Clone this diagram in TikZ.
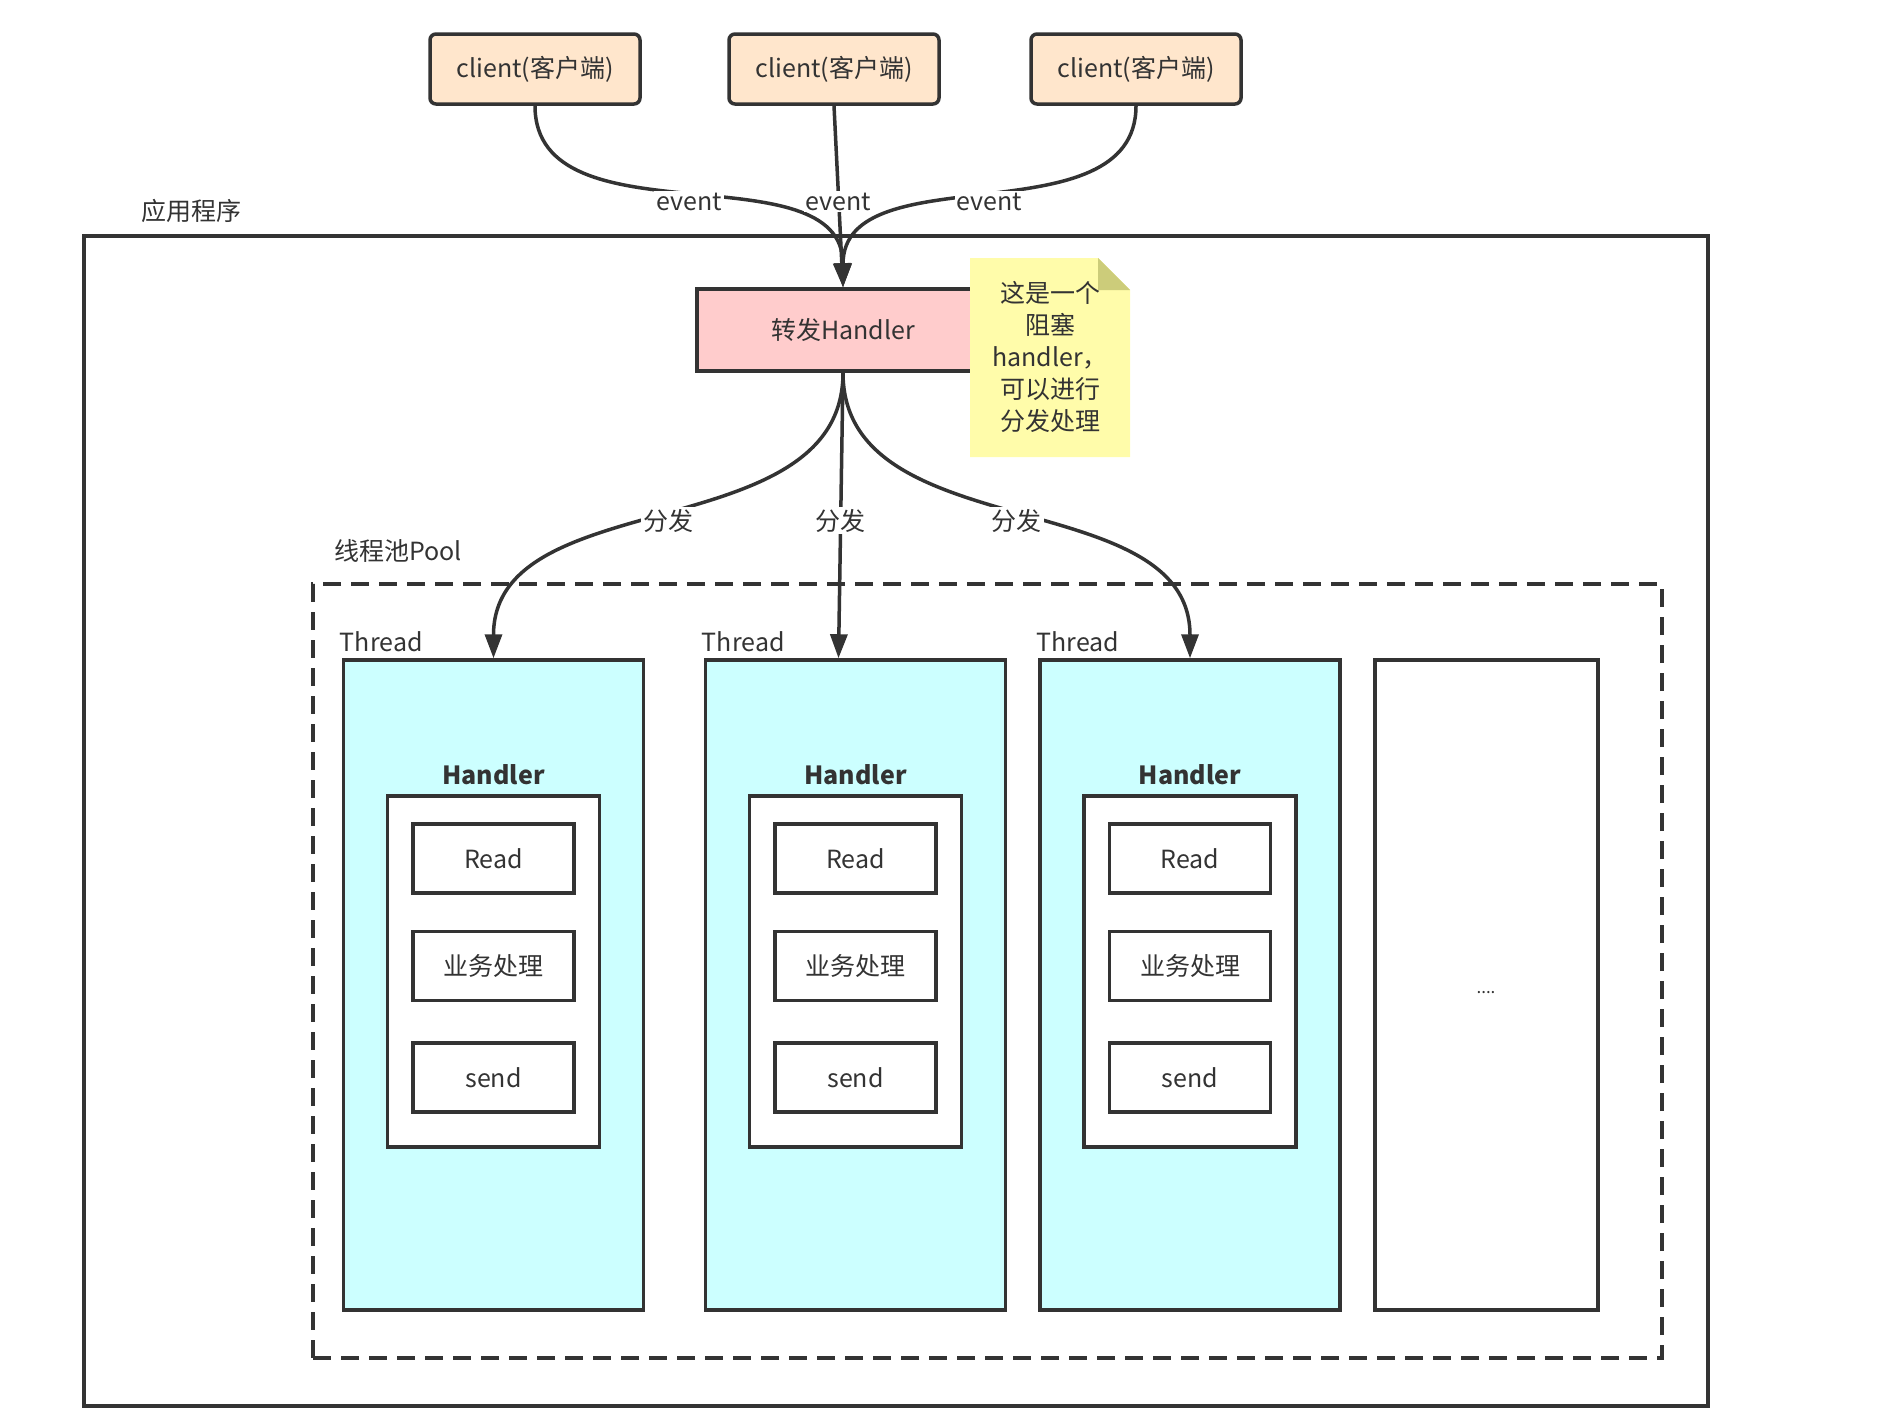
\documentclass[tikz,border=0pt]{standalone}
\usepackage{fontspec}
\setmainfont{Noto Sans CJK SC}
\usetikzlibrary{arrows.meta}
\definecolor{ln}{HTML}{333333}
\definecolor{clientfill}{HTML}{FFE6CC}
\definecolor{hfill}{HTML}{FFCCCC}
\definecolor{notefill}{HTML}{FFFCAA}
\definecolor{notefold}{HTML}{CCCC7A}
\definecolor{threadfill}{HTML}{CCFFFF}
\begin{document}
\begin{tikzpicture}[x=1pt,y=-1pt,
  font=\fontsize{25}{30}\selectfont, text=ln,
  client/.style={draw=ln, line width=3.5pt, fill=clientfill, rounded corners=6pt,
    minimum width=210pt, minimum height=70pt, inner sep=0pt},
  fwd/.style={draw=ln, line width=3.5pt, fill=hfill, minimum width=292pt,
    minimum height=82pt, inner sep=0pt},
  frame/.style={draw=ln, line width=3.5pt, inner sep=0pt},
  pool/.style={draw=ln, line width=3.5pt, dash pattern=on 18pt off 10pt, inner sep=0pt},
  thread/.style={draw=ln, line width=3.5pt, fill=threadfill, minimum width=300pt,
    minimum height=650pt, inner sep=0pt},
  inner/.style={draw=ln, line width=3.5pt, fill=white, minimum width=212pt,
    minimum height=351pt, inner sep=0pt},
  stepbox/.style={draw=ln, line width=3.5pt, fill=white, minimum width=161pt,
    minimum height=69pt, inner sep=0pt},
  conn/.style={draw=ln, line width=3.5pt, -{Triangle[length=24pt,width=17pt]}},
  lab/.style={fill=white, inner sep=2pt, yshift=-5pt},
  plain/.style={inner sep=0pt}
]
\useasboundingbox (0,0) rectangle (1900,1414);

% outer application frame
\node[frame, minimum width=1624pt, minimum height=1170pt] (app) at (896,821) {};
\node[plain] (applab) at (191,211) {应用程序};

% clients
\node[client] (c1) at (535,69) {client(客户端)};
\node[client] (c2) at (834,69) {client(客户端)};
\node[client] (c3) at (1136,69) {client(客户端)};

% forwarding handler
\node[fwd] (h) at (843,330) {转发Handler};

% note
\fill[notefill] (970,258) -- (1098,258) -- (1130,290) -- (1130,457) -- (970,457) -- cycle;
\fill[notefold] (1098,258) -- (1130,290) -- (1098,290) -- cycle;
\node[plain, align=center, font=\fontsize{25}{32}\selectfont] (note) at (1050,357)
  {这是一个\\阻塞\\handler，\\可以进行\\分发处理};

% pool
\node[pool, minimum width=1349pt, minimum height=774pt] (pool) at (987.5,971) {};
\node[plain] (poollab) at (398,551) {线程池Pool};

% threads
\foreach \i/\x in {1/493.5,2/855.5,3/1190}{
  \node[thread] (t\i) at (\x,985) {};
  \node[plain, anchor=base west] (tl\i) at ([xshift=-2pt,yshift=7pt]t\i.north west) {Thread};
  \node[plain, font=\fontsize{25}{30}\selectfont\bfseries] (hl\i) at (\x,775) {Handler};
  \node[inner] (in\i) at (\x,971.5) {};
  \node[stepbox] (r\i) at (\x,858.5) {Read};
  \node[stepbox] (b\i) at (\x,966) {业务处理};
  \node[stepbox] (s\i) at (\x,1077.5) {send};
}
\node[frame, fill=white, minimum width=223pt, minimum height=650pt] (tmore) at (1486.5,985) {};
\node[plain, font=\fontsize{17}{20}\selectfont] (dots) at (1486,993) {....};

% event connectors
\draw[conn] (c1.south) to[out=-90,in=90] node[lab]{event} (h.north);
\draw[conn] (c2.south) to node[lab]{event} (h.north);
\draw[conn] (c3.south) to[out=-90,in=90] node[lab]{event} (h.north);

% dispatch connectors
\draw[conn] (h.south) to[out=-90,in=90] node[lab]{分发} (t1.north);
\draw[conn] (h.south) to node[lab]{分发} ([xshift=-17pt]t2.north);
\draw[conn] (h.south) to[out=-90,in=90] node[lab]{分发} (t3.north);
\end{tikzpicture}
\end{document}
